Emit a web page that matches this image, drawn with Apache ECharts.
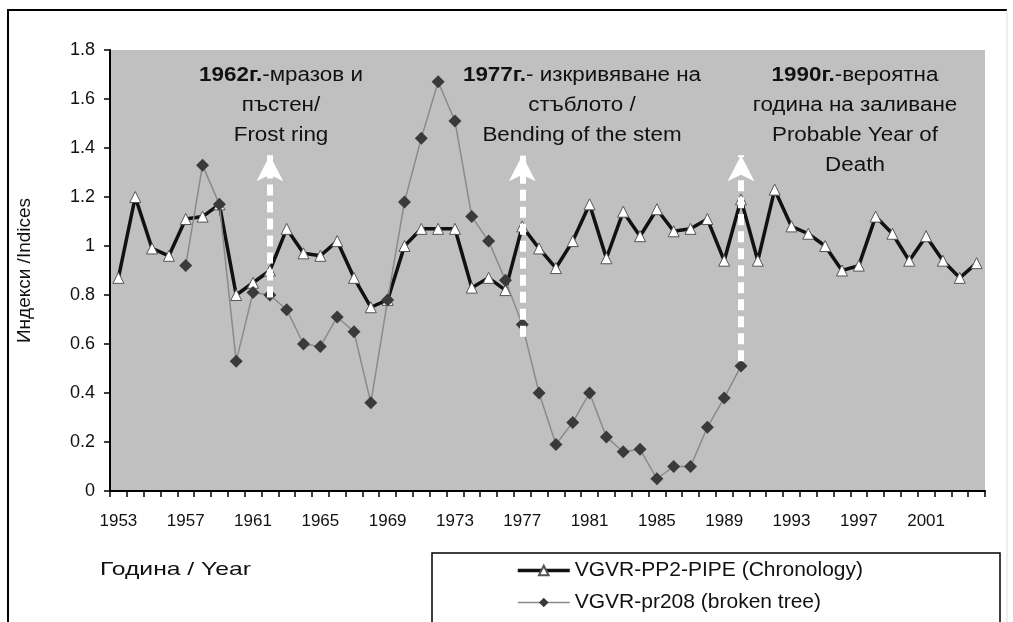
<!DOCTYPE html>
<html>
<head>
<meta charset="utf-8">
<script src="https://cdn.jsdelivr.net/npm/echarts@6/dist/echarts.min.js"></script>
<style>
  html, body { margin: 0; padding: 0; background: #fff; }
  #main { width: 1013px; height: 622px; }
</style>
</head>
<body>
<div id="main"></div>
<script>
// години / years
var years = ['1953','1954','1955','1956','1957','1958','1959','1960','1961','1962',
  '1963','1964','1965','1966','1967','1968','1969','1970','1971','1972',
  '1973','1974','1975','1976','1977','1978','1979','1980','1981','1982',
  '1983','1984','1985','1986','1987','1988','1989','1990','1991','1992',
  '1993','1994','1995','1996','1997','1998','1999','2000','2001','2002',
  '2003','2004'];

// VGVR-PP2-PIPE (Chronology)
var chronology = [0.87,1.20,0.99,0.96,1.11,1.12,1.17,0.80,0.85,0.90,
  1.07,0.97,0.96,1.02,0.87,0.75,0.78,1.00,1.07,1.07,
  1.07,0.83,0.87,0.82,1.08,0.99,0.91,1.02,1.17,0.95,
  1.14,1.04,1.15,1.06,1.07,1.11,0.94,1.19,0.94,1.23,
  1.08,1.05,1.00,0.90,0.92,1.12,1.05,0.94,1.04,0.94,
  0.87,0.93];

// VGVR-pr208 (broken tree), 1957 - 1990
var brokenTree = ['-','-','-','-',0.92,1.33,1.17,0.53,0.81,0.80,
  0.74,0.60,0.59,0.71,0.65,0.36,0.78,1.18,1.44,1.67,
  1.51,1.12,1.02,0.86,0.68,0.40,0.19,0.28,0.40,0.22,
  0.16,0.17,0.05,0.10,0.10,0.26,0.38,0.51,'-','-',
  '-','-','-','-','-','-','-','-','-','-',
  '-','-'];

// стрелки / arrows
var arrowYears = ['1962', '1977', '1990'];
var arrowFrom = [0.79, 0.63, 0.53];
var arrowTo = [1.37, 1.37, 1.37];

var yTicks = { min: 0, max: 1.8, interval: 0.2 };

var font = 'Liberation Sans, Arial, sans-serif';

var chart = echarts.init(document.getElementById('main'));

var arrowLines = [];
for (var i = 0; i < arrowYears.length; i++) {
  arrowLines.push([
    { coord: [arrowYears[i], arrowFrom[i]] },
    { coord: [arrowYears[i], arrowTo[i]] }
  ]);
}

function note(x, bold, rest) {
  return {
    type: 'text', x: x, y: 60, z: 20, scaleX: 1.12,
    style: {
      text: '{b|' + bold + '}' + rest,
      align: 'center',
      fontFamily: font, fontSize: 20, fill: '#111', lineHeight: 30,
      rich: { b: { fontWeight: 'bold', fontFamily: font, fontSize: 20, fill: '#111', lineHeight: 30 } }
    }
  };
}

var option = {
  animation: false,
  backgroundColor: '#fff',
  grid: {
    left: 110, top: 50, width: 875, height: 441,
    show: true, backgroundColor: '#c0c0c0', borderWidth: 0
  },
  legend: {
    orient: 'vertical',
    left: 516, top: 560,
    width: 460, height: 120,
    padding: 0,
    itemGap: 11,
    itemWidth: 52, itemHeight: 12,
    textStyle: { fontFamily: font, fontSize: 21, color: '#111' },
    data: [
      { name: 'VGVR-PP2-PIPE (Chronology)', lineStyle: { width: 3.5, color: '#111' } },
      { name: 'VGVR-pr208 (broken tree)', lineStyle: { width: 1.5, color: '#8a8a8a' } }
    ]
  },
  xAxis: {
    type: 'category',
    data: years,
    boundaryGap: true,
    axisLine: { lineStyle: { color: '#000', width: 2 } },
    axisTick: { show: true, interval: 0, length: 6, lineStyle: { color: '#000', width: 1.5 } },
    axisLabel: { interval: 3, margin: 22, fontFamily: font, fontSize: 17, color: '#111' },
    splitLine: { show: false }
  },
  yAxis: {
    type: 'value',
    min: yTicks.min, max: yTicks.max, interval: yTicks.interval,
    name: 'Индекси /Indices',
    nameLocation: 'middle',
    nameRotate: 90,
    nameGap: 76,
    nameTextStyle: { fontFamily: font, fontSize: 19, color: '#111' },
    axisLine: { show: true, lineStyle: { color: '#000', width: 2 } },
    axisTick: { show: true, length: 6, lineStyle: { color: '#000', width: 1.5 } },
    axisLabel: { margin: 15, fontFamily: font, fontSize: 18, color: '#111' },
    splitLine: { show: false }
  },
  series: [
    {
      name: 'VGVR-PP2-PIPE (Chronology)',
      type: 'line',
      data: chronology,
      symbol: 'triangle',
      symbolSize: 11,
      showAllSymbol: true,
      lineStyle: { color: '#111', width: 3.5 },
      itemStyle: { color: '#fff', borderColor: '#555', borderWidth: 1 },
      z: 2
    },
    {
      name: 'VGVR-pr208 (broken tree)',
      type: 'line',
      data: brokenTree,
      symbol: 'diamond',
      symbolSize: 13,
      showAllSymbol: true,
      lineStyle: { color: '#8a8a8a', width: 1.5 },
      itemStyle: { color: '#3a3a3a' },
      z: 3,
      markLine: {
        silent: true,
        z: 10,
        symbol: ['none', 'arrow'],
        symbolSize: [20, 26],
        label: { show: false },
        lineStyle: { color: '#fff', width: 6, type: [11, 6], opacity: 1 },
        data: arrowLines
      }
    }
  ],
  graphic: [
    // рамка / outer frame
    { type: 'polyline', shape: { points: [[8, 640], [8, 10], [1007, 10]] },
      style: { stroke: '#000', lineWidth: 2, fill: null } },
    { type: 'line', shape: { x1: 1007, y1: 10, x2: 1007, y2: 640 },
      style: { stroke: '#ddd', lineWidth: 1 } },
    // рамка на легендата / legend frame
    { type: 'rect', shape: { x: 432, y: 553, width: 568, height: 100 },
      style: { stroke: '#000', lineWidth: 1.5, fill: null } },
    { type: 'text', x: 100, y: 560, scaleX: 1.3,
      style: { text: 'Година / Year', fontFamily: font, fontSize: 19, fill: '#111' } },
    note(281, '1962г.', '-мразов и\nпъстен/\nFrost ring'),
    note(582, '1977г.', '- изкривяване на\nстъблото /\nBending of the stem'),
    note(855, '1990г.', '-вероятна\nгодина на заливане\nProbable Year of\nDeath')
  ]
};

chart.setOption(option);
</script>
</body>
</html>
